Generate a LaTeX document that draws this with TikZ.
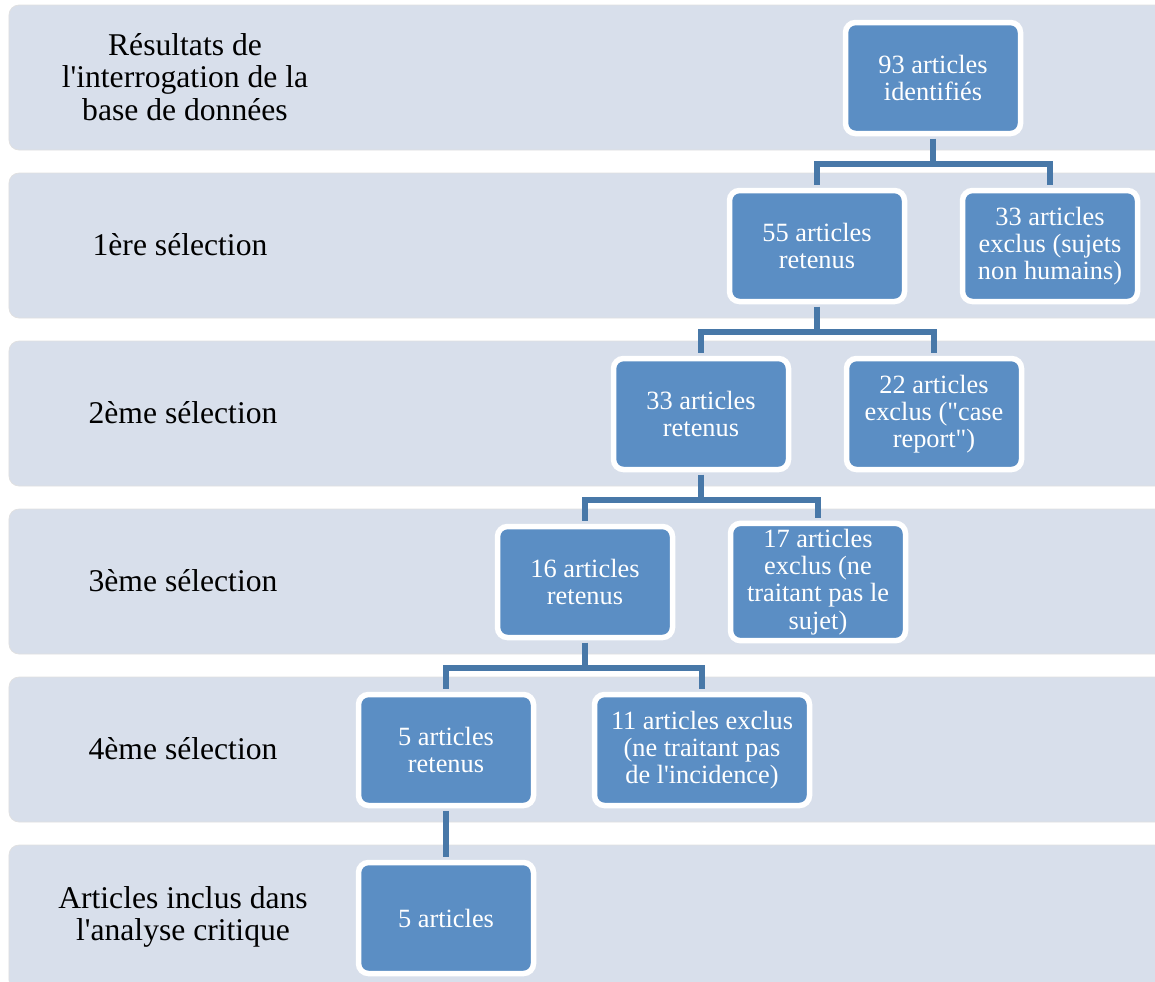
\documentclass[tikz,border=0pt]{standalone}
\usepackage{fontspec}
\setmainfont{Liberation Serif}[Ligatures=TeXOff]
\usepackage{tikz}
\usetikzlibrary{positioning}
\definecolor{fondo}{RGB}{216,223,235}
\definecolor{caja}{RGB}{91,142,196}
\definecolor{linea}{RGB}{72,120,168}
\tikzset{
	node distance=3.36cm, % Distancia entre niveles
	banda/.style={fill=fondo, draw=black!12, line width=0.4pt, rounded corners=0.2cm}, % Franjas de fondo
	etapa/.style={align=center, font=\fontsize{18}{18.5}\selectfont}, % Textos de la izquierda
	articulo/.style={fill=caja, draw=white, line width=0.11cm, rounded corners=0.2cm,
		minimum width=3.5cm, minimum height=2.22cm, align=center, text=white,
		font=\fontsize{15}{15.5}\selectfont}, % Cajas de articulos
	conector/.style={draw=linea, line width=0.12cm, shorten <=0.05cm, shorten >=0.05cm} % Lineas entre cajas
}

\begin{document}
\begin{tikzpicture}
	\useasboundingbox (0,0) rectangle (23.1,-19.62);
	\foreach \i in {0,...,5}
		\draw[banda] (0.18,-0.1-3.36*\i) rectangle (23.6,-3.0-3.36*\i);

	\node[etapa] (e0) at (3.7,-1.54) {Résultats de\\l'interrogation de la\\base de données};
	\node[etapa] (e1) at (3.6,-4.9) {1ère sélection};
	\node[etapa] (e2) at (3.66,-8.26) {2ème sélection};
	\node[etapa] (e3) at (3.66,-11.62) {3ème sélection};
	\node[etapa] (e4) at (3.66,-14.98) {4ème sélection};
	\node[etapa] (e5) at (3.66,-18.34) {Articles inclus dans\\l'analyse critique};

	\node[articulo] (ident) at (18.66,-1.56) {93 articles\\identifiés};
	\node[articulo, on grid, below left=3.36cm and 2.32cm of ident] (ret1) {55 articles\\retenus};
	\node[articulo, on grid, right=4.66cm of ret1] (excl1) {33 articles\\exclus (sujets\\non humains)};
	\node[articulo, on grid, below left=3.36cm and 2.32cm of ret1] (ret2) {33 articles\\retenus};
	\node[articulo, on grid, right=4.66cm of ret2] (excl2) {22 articles\\exclus ("case\\report")};
	\node[articulo, on grid, below left=3.36cm and 2.32cm of ret2] (ret3) {16 articles\\retenus};
	\node[articulo, on grid, right=4.66cm of ret3] (excl3) {17 articles\\exclus (ne\\traitant pas le\\sujet)};
	\node[articulo, on grid, below left=3.36cm and 2.78cm of ret3] (ret4) {5 articles\\retenus};
	\node[articulo, minimum width=4.3cm, on grid, right=5.12cm of ret4] (excl4) {11 articles exclus\\(ne traitant pas\\de l'incidence)};
	\node[articulo, on grid, below=of ret4] (final) {5 articles};

	\draw[conector] (ident.south) -- ++(0,-0.55) -| (ret1.north);
	\draw[conector] (ident.south) -- ++(0,-0.55) -| (excl1.north);
	\draw[conector] (ret1.south) -- ++(0,-0.55) -| (ret2.north);
	\draw[conector] (ret1.south) -- ++(0,-0.55) -| (excl2.north);
	\draw[conector] (ret2.south) -- ++(0,-0.55) -| (ret3.north);
	\draw[conector] (ret2.south) -- ++(0,-0.55) -| (excl3.north);
	\draw[conector] (ret3.south) -- ++(0,-0.55) -| (ret4.north);
	\draw[conector] (ret3.south) -- ++(0,-0.55) -| (excl4.north);
	\draw[conector] (ret4.south) -- (final.north);
\end{tikzpicture}
\end{document}
